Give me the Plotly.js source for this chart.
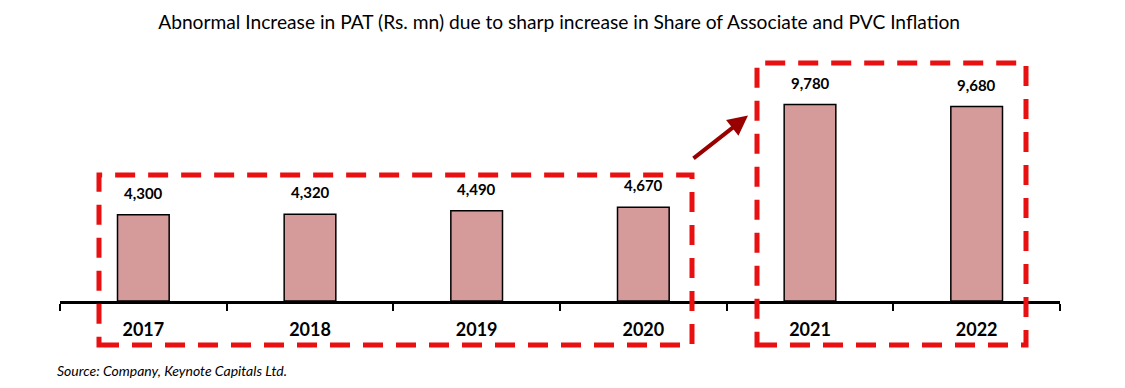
<!DOCTYPE html>
<html><head><meta charset="utf-8">
<script src="https://cdn.plot.ly/plotly-3.0.1.min.js"></script>
<style>html,body{margin:0;padding:0;background:#fff}#c{width:1125px;height:388px}</style>
</head><body><div id="c"></div>
<script>
const years = ['2017','2018','2019','2020','2021','2022'];
const pat = [4300, 4320, 4490, 4670, 9780, 9680];
const labels = ['4,300','4,320','4,490','4,670','9,780','9,680'];
const titleText = 'Abnormal Increase in PAT (Rs. mn) due to sharp increase in Share of Associate and PVC Inflation';
const sourceText = 'Source: Company, Keynote Capitals Ltd.';

const font = 'Lato, "Open Sans", sans-serif';
const trace = {
  type: 'bar', x: years, y: pat, width: 0.31,
  marker: {color: '#d59a9a', line: {color: '#000', width: 1.5}},
  hoverinfo: 'none'
};
const annotations = years.map((y, i) => ({
  x: i, y: pat[i], xref: 'x', yref: 'y', text: '<b>' + labels[i] + '</b>',
  showarrow: false, yanchor: 'bottom', yshift: 11,
  font: {family: font, size: 15, color: '#000'}
}));
annotations.push({
  xref: 'paper', yref: 'paper', x: -0.005, y: -0.245, xanchor: 'left', yanchor: 'top',
  text: '<i>' + sourceText + '</i>', showarrow: false,
  font: {family: font, size: 14, color: '#000'}
});
annotations.push({
  x: 3.628, y: 9232, xref: 'x', yref: 'y', ax: -56, ay: 44, axref: 'pixel', ayref: 'pixel',
  showarrow: true, arrowhead: 2, arrowsize: 1, arrowwidth: 4, arrowcolor: '#990000', text: ''
});
const boxLine = {color: '#e81010', width: 5, dash: '20px,13px'};
const shapes = [
  {type: 'rect', xref: 'paper', yref: 'paper', x0: 0.039, x1: 0.632, y0: -0.183, y1: 0.523, line: boxLine},
  {type: 'rect', xref: 'paper', yref: 'paper', x0: 0.697, x1: 0.966, y0: -0.183, y1: 0.988, line: boxLine}
];
const layout = {
  width: 1125, height: 388,
  margin: {l: 60, r: 65, t: 60, b: 87},
  paper_bgcolor: '#fff', plot_bgcolor: '#fff',
  title: {text: titleText, x: 0.497, xanchor: 'center', y: 0.942, yanchor: 'middle',
          font: {family: font, size: 19.2, color: '#000'}},
  showlegend: false,
  xaxis: {
    type: 'category', range: [-0.5, 5.5], showline: true, linecolor: '#000', linewidth: 3,
    ticks: 'outside', tickson: 'boundaries', ticklen: 7, tickwidth: 2, tickcolor: '#000',
    ticklabelstandoff: 10,
    tickfont: {family: font, size: 18, color: '#000', weight: 'bold'},
    showgrid: false, zeroline: false, fixedrange: true
  },
  yaxis: {range: [0, 12000], visible: false, showgrid: false, zeroline: false, fixedrange: true},
  annotations: annotations,
  shapes: shapes
};
Plotly.newPlot('c', [trace], layout, {displayModeBar: false, staticPlot: true});
</script></body></html>
